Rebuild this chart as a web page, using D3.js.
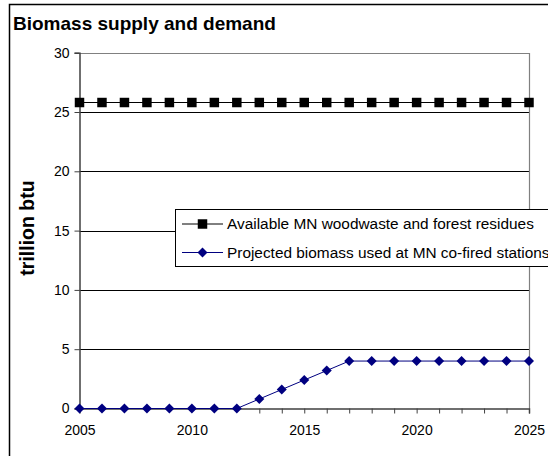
<!DOCTYPE html>
<html>
<head>
<meta charset="utf-8">
<script src="https://cdn.jsdelivr.net/npm/d3@7"></script>
<style>
  body { margin: 0; background: #fff; }
  text { font-family: "Liberation Sans", Arial, sans-serif; }
</style>
</head>
<body>
<div id="chart"></div>
<script>
var years = [2005,2006,2007,2008,2009,2010,2011,2012,2013,2014,2015,2016,2017,2018,2019,2020,2021,2022,2023,2024,2025];
var available = [25.8,25.8,25.8,25.8,25.8,25.8,25.8,25.8,25.8,25.8,25.8,25.8,25.8,25.8,25.8,25.8,25.8,25.8,25.8,25.8,25.8];
var projected = [0,0,0,0,0,0,0,0,0.8,1.6,2.4,3.2,4,4,4,4,4,4,4,4,4];
var yTicks = [0,5,10,15,20,25,30];
var xTicks = [2005,2010,2015,2020,2025];
var seriesNames = ["Available MN woodwaste and forest residues", "Projected biomass used at MN co-fired stations"];

(function(){
var w = 548, h = 456;
var pLeft = 79.5, pRight = 529, pTop = 52.7, pBottom = 408.5;

var svg = d3.select("#chart")
    .append("svg")
    .attr("width", w)
    .attr("height", h);

// outer frame
svg.append("rect")
    .attr("x", 9.5).attr("y", 4.5)
    .attr("width", 560).attr("height", 470)
    .attr("fill", "#fff")
    .attr("stroke", "#000").attr("stroke-width", 1.5);

var x = d3.scaleLinear().domain([2005, 2025]).range([pLeft, pRight]);
var y = d3.scaleLinear().domain([0, 30]).range([pBottom, pTop]);

// gridlines
svg.selectAll("line.grid")
    .data([5,10,15,20,25])
    .enter()
    .append("line")
    .attr("class", "grid")
    .attr("x1", pLeft).attr("x2", pRight)
    .attr("y1", function(d){ return Math.round(y(d)) + 0.5; })
    .attr("y2", function(d){ return Math.round(y(d)) + 0.5; })
    .attr("stroke", "#000").attr("stroke-width", 1);

// plot border (top and right)
svg.append("path")
    .attr("d", "M" + pLeft + "," + (Math.round(pTop) + 0.5) + "H" + (pRight + 0.5) + "V" + pBottom)
    .attr("fill", "none")
    .attr("stroke", "#808080").attr("stroke-width", 1.2);

// y axis
var yAxis = d3.axisLeft(y).tickValues(yTicks).tickSize(5).tickPadding(5);
var gy = svg.append("g")
    .attr("transform", "translate(" + pLeft + ",0)")
    .call(yAxis);
gy.select(".domain").attr("stroke", "#404040").attr("stroke-width", 1.5);
gy.selectAll(".tick line").attr("stroke", "#404040");
gy.selectAll(".tick text")
    .attr("font-size", 14).attr("fill", "#000")
    .style("font-family", "Liberation Sans, Arial, sans-serif");

// x axis
var xAxis = d3.axisBottom(x).tickValues(years).tickSize(5).tickPadding(12)
    .tickFormat(function(d){ return xTicks.indexOf(d) >= 0 ? d : ""; });
var gx = svg.append("g")
    .attr("transform", "translate(0," + pBottom + ")")
    .call(xAxis);
gx.select(".domain").attr("stroke", "#404040").attr("stroke-width", 1.5);
// in the original the tick marks under the flat zero stretch are not visible
gx.selectAll(".tick line")
    .attr("stroke", "#404040")
    .attr("opacity", function(d){ return d < 2013 ? 0 : 1; });
gx.selectAll(".tick text")
    .attr("font-size", 14).attr("fill", "#000")
    .style("font-family", "Liberation Sans, Arial, sans-serif");

// series lines
var line = d3.line()
    .x(function(d, i){ return x(years[i]); })
    .y(function(d){ return y(d); });

svg.append("path")
    .datum(available)
    .attr("d", line)
    .attr("fill", "none")
    .attr("stroke", "#000").attr("stroke-width", 1);

svg.append("path")
    .datum(projected)
    .attr("d", line)
    .attr("fill", "none")
    .attr("stroke", "#000080").attr("stroke-width", 1);

// markers
var square = d3.symbol().type(d3.symbolSquare).size(90);
var diamond = d3.symbol().type(d3.symbolDiamond2).size(64);

svg.selectAll("path.sq")
    .data(available)
    .enter()
    .append("path")
    .attr("class", "sq")
    .attr("d", square)
    .attr("transform", function(d, i){ return "translate(" + x(years[i]) + "," + y(d) + ")"; })
    .attr("fill", "#000");

svg.selectAll("path.dm")
    .data(projected)
    .enter()
    .append("path")
    .attr("class", "dm")
    .attr("d", diamond)
    .attr("transform", function(d, i){ return "translate(" + x(years[i]) + "," + y(d) + ")"; })
    .attr("fill", "#000080");

// title
svg.append("text")
    .attr("x", 13).attr("y", 30)
    .attr("font-size", 19).attr("font-weight", "bold")
    .text("Biomass supply and demand");

// y axis title
svg.append("text")
    .attr("transform", "translate(34,228) rotate(-90)")
    .attr("text-anchor", "middle")
    .attr("font-size", 19.5).attr("font-weight", "bold")
    .text("trillion btu");

// legend
var lg = svg.append("g");
lg.append("rect")
    .attr("x", 175.5).attr("y", 209.5)
    .attr("width", 400).attr("height", 57)
    .attr("fill", "#fff")
    .attr("stroke", "#000").attr("stroke-width", 1);

var legendItems = lg.selectAll("g.item")
    .data(seriesNames)
    .enter()
    .append("g")
    .attr("class", "item")
    .attr("transform", function(d, i){ return "translate(182," + (224 + i * 28.5) + ")"; });

legendItems.append("line")
    .attr("x1", 0).attr("x2", 41)
    .attr("stroke", function(d, i){ return i === 0 ? "#000" : "#000080"; });

legendItems.append("path")
    .attr("d", function(d, i){ return i === 0 ? square() : diamond(); })
    .attr("transform", "translate(20.5,0)")
    .attr("fill", function(d, i){ return i === 0 ? "#000" : "#000080"; });

legendItems.append("text")
    .attr("x", 45).attr("y", 5)
    .attr("font-size", 15.4)
    .text(function(d){ return d; });
})();
</script>
</body>
</html>
